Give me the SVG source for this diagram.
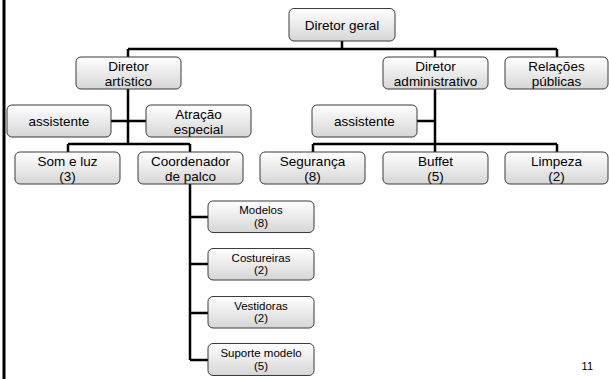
<svg xmlns="http://www.w3.org/2000/svg" width="609" height="379" viewBox="0 0 609 379">
<defs>
<linearGradient id="g" x1="0" y1="0" x2="0" y2="1">
<stop offset="0" stop-color="#ffffff"/>
<stop offset="1" stop-color="#d6d6d6"/>
</linearGradient>
<style>
.b{fill:url(#g);stroke:#3a3a3a;stroke-width:1}
.t{font-family:"Liberation Sans",Arial,sans-serif;font-size:13.5px;fill:#000;text-anchor:middle}
.s{font-family:"Liberation Sans",Arial,sans-serif;font-size:11.5px;fill:#000;text-anchor:middle}
.c{fill:none;stroke:#000;stroke-width:2.5}
</style>
</defs>
<rect width="609" height="379" fill="#fff"/>
<line x1="4" y1="0" x2="4" y2="379" stroke="#000" stroke-width="3"/>
<g id="connectors" class="c">
<path d="M342,41V49M128,49H557M128,49V57M435,49V57M557,49V57"/>
<path d="M128,89V144M111,121H146M68,144H190M68,144V152M190,144V152"/>
<path d="M435,89V144M417,121H435M313,144H557M313,144V152M435,144V152M557,144V152"/>
<path d="M190,184V360M190,217H208M190,264H208M190,313H208M190,360H208"/>
</g>
<g id="geral"><rect class="b" x="289" y="8.5" width="106" height="32.5" rx="5"/><text class="t" x="342" y="29.5">Diretor geral</text></g>
<g id="artistico"><rect class="b" x="76" y="57" width="105" height="32" rx="5"/><text class="t" x="128.5" y="71">Diretor</text><text class="t" x="128.5" y="86">artístico</text></g>
<g id="administrativo"><rect class="b" x="383" y="57" width="105" height="32" rx="5"/><text class="t" x="435.5" y="71">Diretor</text><text class="t" x="435.5" y="86">administrativo</text></g>
<g id="relacoes"><rect class="b" x="505" y="57" width="103" height="32" rx="5"/><text class="t" x="556.5" y="71">Relações</text><text class="t" x="556.5" y="86">públicas</text></g>
<g id="assistente1"><rect class="b" x="7" y="105" width="104" height="32" rx="5"/><text class="t" x="59" y="126">assistente</text></g>
<g id="atracao"><rect class="b" x="146" y="105" width="105" height="32" rx="5"/><text class="t" x="198.5" y="119">Atração</text><text class="t" x="198.5" y="134">especial</text></g>
<g id="assistente2"><rect class="b" x="312" y="105" width="105" height="32" rx="5"/><text class="t" x="364.5" y="126">assistente</text></g>
<g id="somluz"><rect class="b" x="15" y="152" width="105" height="32" rx="5"/><text class="t" x="67.5" y="166">Som e luz</text><text class="t" x="67.5" y="181">(3)</text></g>
<g id="coordenador"><rect class="b" x="138" y="152" width="105" height="32" rx="5"/><text class="t" x="190.5" y="166">Coordenador</text><text class="t" x="190.5" y="181">de palco</text></g>
<g id="seguranca"><rect class="b" x="260" y="152" width="105" height="32" rx="5"/><text class="t" x="312.5" y="166">Segurança</text><text class="t" x="312.5" y="181">(8)</text></g>
<g id="buffet"><rect class="b" x="383" y="152" width="105" height="32" rx="5"/><text class="t" x="435.5" y="166">Buffet</text><text class="t" x="435.5" y="181">(5)</text></g>
<g id="limpeza"><rect class="b" x="505" y="152" width="103" height="32" rx="5"/><text class="t" x="556.5" y="166">Limpeza</text><text class="t" x="556.5" y="181">(2)</text></g>
<g id="modelos"><rect class="b" x="208" y="201" width="106" height="31.5" rx="5"/><text class="s" x="261" y="214">Modelos</text><text class="s" x="261" y="226.5">(8)</text></g>
<g id="costureiras"><rect class="b" x="208" y="248.5" width="106" height="31.5" rx="5"/><text class="s" x="261" y="261.5">Costureiras</text><text class="s" x="261" y="274">(2)</text></g>
<g id="vestidoras"><rect class="b" x="208" y="296.5" width="106" height="31.5" rx="5"/><text class="s" x="261" y="309.5">Vestidoras</text><text class="s" x="261" y="322">(2)</text></g>
<g id="suporte"><rect class="b" x="208" y="343.5" width="106" height="32" rx="5"/><text class="s" x="261" y="356.5">Suporte modelo</text><text class="s" x="261" y="369.5">(5)</text></g>
<text x="593" y="370" font-family="Liberation Sans,Arial,sans-serif" font-size="11px" text-anchor="end">11</text>
</svg>
